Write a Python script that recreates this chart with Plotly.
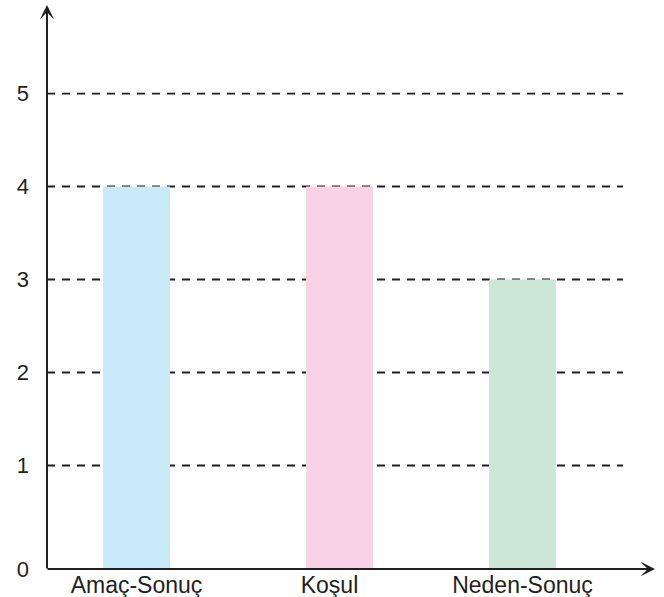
import plotly.graph_objects as go

categories = ["Amaç-Sonuç", "Koşul", "Neden-Sonuç"]
values = [4, 4, 3]
bar_colors = ["#c8e9f8", "#f9d3e5", "#cce7d6"]
y_ticks = [1, 2, 3, 4, 5]
y_tick_labels = ["1", "2", "3", "4", "5"]

Y_MIN = -0.113
Y_MAX = 5.952
X_MIN = -0.4637
X_MAX = 2.6865
BAR_W = 0.347
INK = "#231f20"
FONT = "Liberation Sans, Arial, sans-serif"

fig = go.Figure()
fig.add_trace(go.Bar(
    x=categories,
    y=[v - Y_MIN for v in values],
    base=Y_MIN,
    width=BAR_W,
    offset=[-BAR_W / 2, -BAR_W / 2 + 0.052, -BAR_W / 2],
    marker=dict(color=bar_colors, line=dict(width=0)),
    hoverinfo="skip",
))

shapes = []
for t in y_ticks:
    shapes.append(dict(
        type="line", xref="paper", yref="y",
        x0=0, x1=(623 - 47) / 608, y0=t, y1=t,
        line=dict(color=INK, width=1.8, dash="8px,7px"),
        layer="below",
    ))

annotations = [
    dict(xref="paper", yref="paper", x=0, y=1, axref="pixel", ayref="pixel",
         ax=0, ay=565, showarrow=True, arrowhead=3, arrowsize=1.2,
         arrowwidth=2, arrowcolor=INK, text=""),
    dict(xref="paper", yref="paper", x=1, y=0, axref="pixel", ayref="pixel",
         ax=-609, ay=0, showarrow=True, arrowhead=3, arrowsize=1.2,
         arrowwidth=2, arrowcolor=INK, text=""),
]

fig.update_layout(
    width=664, height=597,
    margin=dict(l=47, r=9, t=5, b=28, autoexpand=False),
    paper_bgcolor="white", plot_bgcolor="white",
    showlegend=False,
    shapes=shapes,
    annotations=annotations,
    font=dict(family=FONT, color=INK),
    xaxis=dict(
        range=[X_MIN, X_MAX], showgrid=False, zeroline=False, showline=False,
        ticks="", tickfont=dict(size=23, family=FONT, color=INK),
        automargin=False, ticklabelstandoff=0,
        fixedrange=True,
    ),
    yaxis=dict(
        range=[Y_MIN, Y_MAX], showgrid=False, zeroline=False, showline=False,
        tickvals=[Y_MIN] + y_ticks, ticktext=["0"] + y_tick_labels,
        ticks="", ticklabelstandoff=17, automargin=False,
        tickfont=dict(size=22, family=FONT, color=INK),
        fixedrange=True,
    ),
)

fig.write_html(
    "out.html",
    config={"displayModeBar": False},
    post_script="document.body.style.margin='0';document.body.style.overflow='hidden';",
)
